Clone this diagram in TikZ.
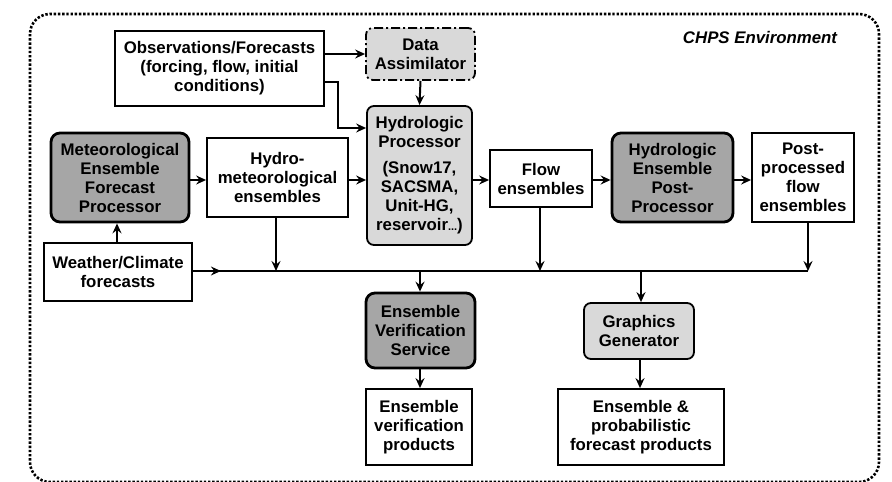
\documentclass[tikz,border=0pt]{standalone}
\usepackage{fontspec}
\setmainfont{Liberation Sans}
\usetikzlibrary{arrows.meta,calc}
\definecolor{lgray}{HTML}{D9D9D9}
\definecolor{dgray}{HTML}{A6A6A6}
\tikzset{
  box/.style={draw=black, line width=1.8pt, fill=white, align=center, inner sep=0pt,
    font=\fontsize{16.8}{19}\selectfont\bfseries},
  lbox/.style={box, fill=lgray, rounded corners=7pt},
  dbox/.style={box, fill=dgray, rounded corners=9pt, line width=2.8pt},
  arr/.style={line width=2pt, -{Stealth[length=10pt,width=9pt,inset=3.5pt]}},
  ln/.style={line width=2pt},
}
\begin{document}
\begin{tikzpicture}[x=1pt,y=-1pt]
\useasboundingbox (0,0) rectangle (892,482);
\begin{scope}
\clip (0,0) rectangle (892,482);
\draw[line width=2.6pt, dash pattern=on 2.4pt off 1.8pt, rounded corners=20pt] (30,14) rectangle (879,482);
\end{scope}
\node[font=\fontsize{16.8}{19}\selectfont\bfseries\itshape] (env) at (760,37) {CHPS Environment};

\node[box, minimum width=209pt, minimum height=75pt] (obs) at (219.5,68.5) {Observations/Forecasts\\(forcing, flow, initial\\conditions)};
\node[lbox, dash pattern=on 9pt off 3pt on 2pt off 3pt, minimum width=109pt, minimum height=52pt] (da) at (420.5,54) {Data\\Assimilator};
\node[lbox, minimum width=105pt, minimum height=139pt] (hp) at (419.5,175.5) {Hydrologic\\Processor\\[7pt](Snow17,\\SACSMA,\\Unit-HG,\\reservoir{\fontsize{11}{19}\selectfont...})};
\node[dbox, minimum width=138pt, minimum height=89pt] (mefp) at (120,177.5) {Meteorological\\Ensemble\\Forecast\\Processor};
\node[box, minimum width=141pt, minimum height=79pt] (hm) at (277.5,177.5) {Hydro-\\meteorological\\ensembles};
\node[box, minimum width=102pt, minimum height=57pt] (flow) at (541,178.5) {Flow\\ensembles};
\node[dbox, minimum width=121pt, minimum height=89pt] (hepp) at (672.5,177.5) {Hydrologic\\Ensemble\\Post-\\Processor};
\node[box, minimum width=102pt, minimum height=89pt] (pp) at (803,177.5) {Post-\\processed\\flow\\ensembles};
\node[box, minimum width=148pt, minimum height=58pt] (wc) at (118,272) {Weather/Climate\\forecasts};
\node[dbox, minimum width=109pt, minimum height=75pt] (evs) at (420.5,330.5) {Ensemble\\Verification\\Service};
\node[box, minimum width=106pt, minimum height=76pt] (evp) at (419,427) {Ensemble\\verification\\products};
\node[lbox, minimum width=110pt, minimum height=56pt] (gg) at (639,331) {Graphics\\Generator};
\node[box, minimum width=166pt, minimum height=76pt] (prod) at (641,427) {Ensemble \&\\probabilistic\\forecast products};

% connectors
\draw[arr] (obs.east |- da.west) -- (da.west);
\coordinate (k1) at (338,128);
\draw[arr] ([yshift=-13.5pt]obs.east) -| (k1) -- (k1 -| hp.west);
\draw[arr] (da.south) -- (hp.north);
\draw[arr] (mefp.east |- 0,180) -- (hm.west |- 0,180);
\draw[arr] (hm.east |- 0,180) -- (hp.west |- 0,180);
\draw[arr] (hp.east |- 0,180) -- (flow.west |- 0,180);
\draw[arr] (flow.east |- 0,180) -- (hepp.west |- 0,180);
\draw[arr] (hepp.east |- 0,180) -- (pp.west |- 0,180);
\draw[arr] (wc.north -| 117,0) -- (mefp.south -| 117,0);

% bus
\coordinate (bl) at (wc.east |- 0,271);
\coordinate (br) at (808,271);
\draw[ln] (bl) -- (br);
\draw[arr] (bl) -- ++(28,0);
\draw[arr] (hm.south -| 276,0) -- (276,271);
\draw[arr] (flow.south -| 540,0) -- (540,271);
\draw[arr] (pp.south -| br) -- (br);
\draw[arr] (420,271) -- (evs.north -| 420,0);
\draw[arr] (evs.south -| 420,0) -- (evp.north -| 420,0);
\draw[arr] (641,271) -- (gg.north -| 641,0);
\draw[arr] (gg.south -| 640,0) -- (prod.north -| 640,0);
\end{tikzpicture}
\end{document}
